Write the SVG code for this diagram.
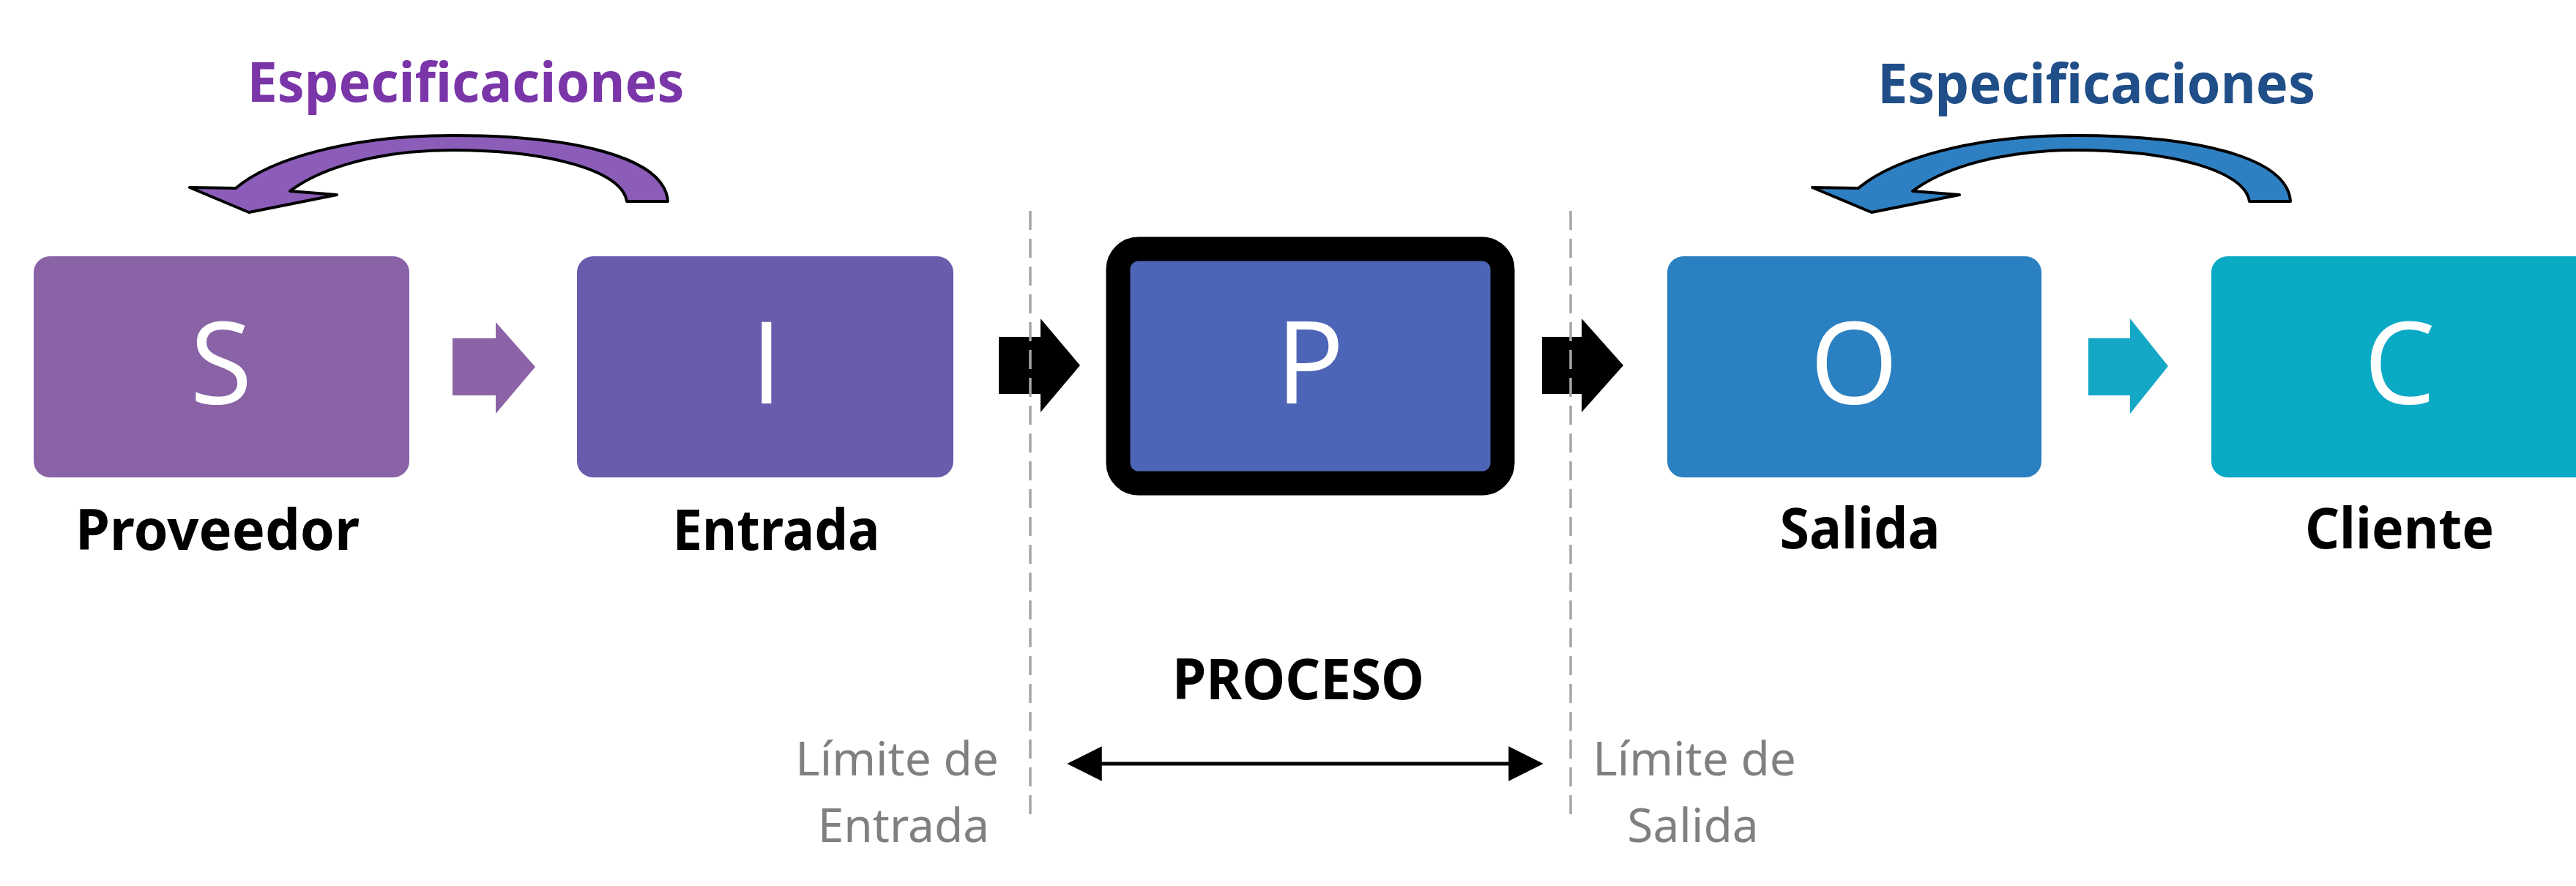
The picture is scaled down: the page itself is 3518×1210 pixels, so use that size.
<svg xmlns="http://www.w3.org/2000/svg" width="3518" height="1210" viewBox="0 0 3518 1210">
  <defs>
    <style>
      .letter { font-family: "Open Sans", "Noto Sans", sans-serif; font-size: 155px; font-weight: 400; fill: #ffffff; text-anchor: middle; }
      .label { font-family: "Noto Sans", "Open Sans", sans-serif; font-size: 77px; font-weight: bold; fill: #000000; text-anchor: middle; }
      .spec { font-family: "Noto Sans", "Open Sans", sans-serif; font-size: 75px; font-weight: bold; text-anchor: middle; }
      .limit { font-family: "Noto Sans", "Open Sans", sans-serif; font-size: 64px; fill: #808080; text-anchor: middle; }
      .boundary { stroke: #a6a6a6; stroke-width: 3.5; stroke-dasharray: 26 12; fill: none; }
      .curve { stroke: #000000; stroke-width: 4; stroke-linejoin: round; }
    </style>
    <marker id="dblhead" viewBox="0 0 10 10" refX="9" refY="5" markerWidth="9.5" markerHeight="9.5" markerUnits="strokeWidth" orient="auto-start-reverse">
      <path d="M0,0 L10,5 L0,10 Z" fill="#000000"/>
    </marker>
    <path id="curvedArrow" d="M 912 275 C 908 215, 785 185, 618 185 C 475 185, 368 218, 322 257 L 259 256 L 340 290 L 460 266 L 396 261 C 440 228, 520 205, 618 205 C 745 205, 850 232, 856 275 Z"/>
  </defs>

  <rect x="0" y="0" width="3518" height="1210" fill="#ffffff"/>

  <!-- Nodes -->
  <g id="node-S">
    <rect x="46" y="350" width="513" height="302" rx="22" fill="#8a63a6"/>
    <text class="letter" x="302" y="551">S</text>
    <text class="label" x="297" y="751" textLength="388" lengthAdjust="spacingAndGlyphs">Proveedor</text>
  </g>
  <g id="node-I">
    <rect x="788" y="350" width="514" height="302" rx="22" fill="#6b5bad"/>
    <text class="letter" x="1047" y="551">I</text>
    <text class="label" x="1060" y="751" textLength="283" lengthAdjust="spacingAndGlyphs">Entrada</text>
  </g>
  <g id="node-P">
    <rect x="1527" y="340" width="525" height="320" rx="28" fill="#4d65b7" stroke="#000000" stroke-width="33"/>
    <text class="letter" x="1789" y="551">P</text>
  </g>
  <g id="node-O">
    <rect x="2277" y="350" width="511" height="302" rx="22" fill="#2a80c0"/>
    <text class="letter" x="2532" y="551">O</text>
    <text class="label" x="2540" y="749" textLength="219" lengthAdjust="spacingAndGlyphs">Salida</text>
  </g>
  <g id="node-C">
    <rect x="3020" y="350" width="520" height="302" rx="22" fill="#0aa9c4"/>
    <text class="letter" x="3277" y="551">C</text>
    <text class="label" x="3277" y="749" textLength="258" lengthAdjust="spacingAndGlyphs">Cliente</text>
  </g>

  <g id="spec-left">
    <use href="#curvedArrow" class="curve" fill="#8b5db9"/>
    <text class="spec" x="636" y="139" fill="#7a35a9" textLength="597" lengthAdjust="spacingAndGlyphs">Especificaciones</text>
  </g>
  <g id="spec-right">
    <use href="#curvedArrow" class="curve" fill="#2f80c3" transform="translate(2216,0)"/>
    <text class="spec" x="2863" y="141" fill="#1f4e88" textLength="598" lengthAdjust="spacingAndGlyphs">Especificaciones</text>
  </g>

  <!-- Connectors -->
  <g id="connectors">
    <polygon points="618,462 677,462 677,440 731,501 677,565 677,540 618,540" fill="#8c63a7"/>
    <polygon points="2852,462 2909,462 2909,435 2961,500 2909,565 2909,540 2852,540" fill="#15a8c6"/>
    <polygon points="1364,460 1421,460 1421,435 1475,499 1421,563 1421,538 1364,538" fill="#000000"/>
    <polygon points="2106,460 2160,460 2160,435 2217,499 2160,563 2160,538 2106,538" fill="#000000"/>
    <line x1="1462" y1="1043" x2="2103" y2="1043" stroke="#000000" stroke-width="5" marker-start="url(#dblhead)" marker-end="url(#dblhead)"/>
  </g>

  <g id="boundaries">
    <line class="boundary" x1="1407" y1="288" x2="1407" y2="1115"/>
    <line class="boundary" x1="2145" y1="288" x2="2145" y2="1112"/>
  </g>

  <g id="process-label">
    <text class="label" x="1773" y="955" textLength="344" lengthAdjust="spacingAndGlyphs">PROCESO</text>
  </g>
  <g id="limit-in">
    <text class="limit" x="1225" y="1059">Límite de</text>
    <text class="limit" x="1234" y="1150">Entrada</text>
  </g>
  <g id="limit-out">
    <text class="limit" x="2314" y="1059">Límite de</text>
    <text class="limit" x="2312" y="1150">Salida</text>
  </g>
</svg>
